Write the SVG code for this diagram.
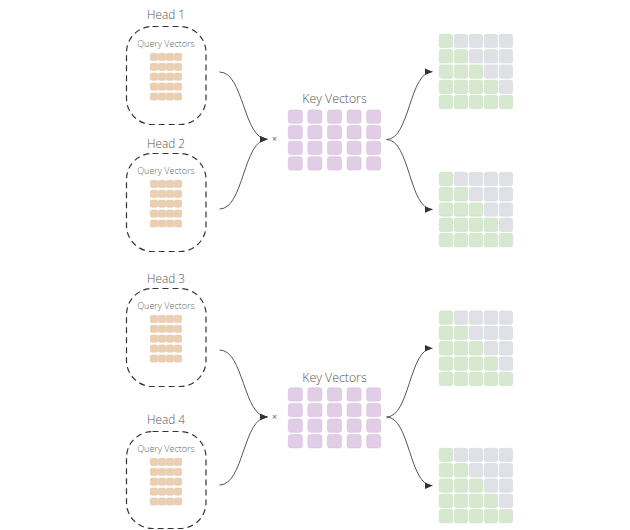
<svg xmlns="http://www.w3.org/2000/svg" width="630" height="530" viewBox="0 0 630 530">
<defs>
<style>
.title{font-family:"Open Sans","Liberation Sans",sans-serif;font-size:11.8px;font-weight:300;fill:#555;text-anchor:middle}
.qlabel{font-family:"Open Sans","Liberation Sans",sans-serif;font-size:9px;font-weight:300;fill:#666;text-anchor:middle}
.klabel{font-family:"Open Sans","Liberation Sans",sans-serif;font-size:12.3px;font-weight:300;fill:#555;text-anchor:middle}
.times{font-family:"Open Sans","Liberation Sans",sans-serif;font-size:9px;fill:#666;text-anchor:middle}
.box{fill:none;stroke:#333;stroke-width:1.2;stroke-dasharray:6 4}
.q{fill:#ebcfb2;stroke:#e2c2a4;stroke-width:0.5}
.k{fill:#e2cde7;stroke:#d6bddd;stroke-width:0.6}
.g{fill:#d6e8d0;stroke:#c6dfbf;stroke-width:0.6}
.n{fill:#dfe1e7;stroke:#d4d7de;stroke-width:0.6}
.link{fill:none;stroke:#555;stroke-width:1;marker-end:url(#arr)}
</style>
<marker id="arr" markerUnits="userSpaceOnUse" markerWidth="8" markerHeight="7" refX="8" refY="3.5" orient="auto">
<path d="M0,0 L8,3.5 L0,7 z" fill="#333"/>
</marker>
<g id="qgrid">
<rect class="q" x="0" y="0" width="7.4" height="7.2" rx="1.5"/><rect class="q" x="8" y="0" width="7.4" height="7.2" rx="1.5"/><rect class="q" x="16" y="0" width="7.4" height="7.2" rx="1.5"/><rect class="q" x="24" y="0" width="7.4" height="7.2" rx="1.5"/>
<rect class="q" x="0" y="9.9" width="7.4" height="7.2" rx="1.5"/><rect class="q" x="8" y="9.9" width="7.4" height="7.2" rx="1.5"/><rect class="q" x="16" y="9.9" width="7.4" height="7.2" rx="1.5"/><rect class="q" x="24" y="9.9" width="7.4" height="7.2" rx="1.5"/>
<rect class="q" x="0" y="19.8" width="7.4" height="7.2" rx="1.5"/><rect class="q" x="8" y="19.8" width="7.4" height="7.2" rx="1.5"/><rect class="q" x="16" y="19.8" width="7.4" height="7.2" rx="1.5"/><rect class="q" x="24" y="19.8" width="7.4" height="7.2" rx="1.5"/>
<rect class="q" x="0" y="29.7" width="7.4" height="7.2" rx="1.5"/><rect class="q" x="8" y="29.7" width="7.4" height="7.2" rx="1.5"/><rect class="q" x="16" y="29.7" width="7.4" height="7.2" rx="1.5"/><rect class="q" x="24" y="29.7" width="7.4" height="7.2" rx="1.5"/>
<rect class="q" x="0" y="39.6" width="7.4" height="7.2" rx="1.5"/><rect class="q" x="8" y="39.6" width="7.4" height="7.2" rx="1.5"/><rect class="q" x="16" y="39.6" width="7.4" height="7.2" rx="1.5"/><rect class="q" x="24" y="39.6" width="7.4" height="7.2" rx="1.5"/>
</g>
<g id="kgrid">
<rect class="k" x="0" y="0" width="14" height="13.3" rx="2.5"/><rect class="k" x="19.6" y="0" width="14" height="13.3" rx="2.5"/><rect class="k" x="39.2" y="0" width="14" height="13.3" rx="2.5"/><rect class="k" x="58.8" y="0" width="14" height="13.3" rx="2.5"/><rect class="k" x="78.4" y="0" width="14" height="13.3" rx="2.5"/>
<rect class="k" x="0" y="15.6" width="14" height="13.3" rx="2.5"/><rect class="k" x="19.6" y="15.6" width="14" height="13.3" rx="2.5"/><rect class="k" x="39.2" y="15.6" width="14" height="13.3" rx="2.5"/><rect class="k" x="58.8" y="15.6" width="14" height="13.3" rx="2.5"/><rect class="k" x="78.4" y="15.6" width="14" height="13.3" rx="2.5"/>
<rect class="k" x="0" y="31.2" width="14" height="13.3" rx="2.5"/><rect class="k" x="19.6" y="31.2" width="14" height="13.3" rx="2.5"/><rect class="k" x="39.2" y="31.2" width="14" height="13.3" rx="2.5"/><rect class="k" x="58.8" y="31.2" width="14" height="13.3" rx="2.5"/><rect class="k" x="78.4" y="31.2" width="14" height="13.3" rx="2.5"/>
<rect class="k" x="0" y="46.8" width="14" height="13.3" rx="2.5"/><rect class="k" x="19.6" y="46.8" width="14" height="13.3" rx="2.5"/><rect class="k" x="39.2" y="46.8" width="14" height="13.3" rx="2.5"/><rect class="k" x="58.8" y="46.8" width="14" height="13.3" rx="2.5"/><rect class="k" x="78.4" y="46.8" width="14" height="13.3" rx="2.5"/>
</g>
<g id="mgrid">
<rect class="g" x="0" y="0" width="13.3" height="13.3" rx="2"/><rect class="n" x="15" y="0" width="13.3" height="13.3" rx="2"/><rect class="n" x="30" y="0" width="13.3" height="13.3" rx="2"/><rect class="n" x="45" y="0" width="13.3" height="13.3" rx="2"/><rect class="n" x="60" y="0" width="13.3" height="13.3" rx="2"/>
<rect class="g" x="0" y="15.3" width="13.3" height="13.3" rx="2"/><rect class="g" x="15" y="15.3" width="13.3" height="13.3" rx="2"/><rect class="n" x="30" y="15.3" width="13.3" height="13.3" rx="2"/><rect class="n" x="45" y="15.3" width="13.3" height="13.3" rx="2"/><rect class="n" x="60" y="15.3" width="13.3" height="13.3" rx="2"/>
<rect class="g" x="0" y="30.6" width="13.3" height="13.3" rx="2"/><rect class="g" x="15" y="30.6" width="13.3" height="13.3" rx="2"/><rect class="g" x="30" y="30.6" width="13.3" height="13.3" rx="2"/><rect class="n" x="45" y="30.6" width="13.3" height="13.3" rx="2"/><rect class="n" x="60" y="30.6" width="13.3" height="13.3" rx="2"/>
<rect class="g" x="0" y="45.9" width="13.3" height="13.3" rx="2"/><rect class="g" x="15" y="45.9" width="13.3" height="13.3" rx="2"/><rect class="g" x="30" y="45.9" width="13.3" height="13.3" rx="2"/><rect class="g" x="45" y="45.9" width="13.3" height="13.3" rx="2"/><rect class="n" x="60" y="45.9" width="13.3" height="13.3" rx="2"/>
<rect class="g" x="0" y="61.2" width="13.3" height="13.3" rx="2"/><rect class="g" x="15" y="61.2" width="13.3" height="13.3" rx="2"/><rect class="g" x="30" y="61.2" width="13.3" height="13.3" rx="2"/><rect class="g" x="45" y="61.2" width="13.3" height="13.3" rx="2"/><rect class="g" x="60" y="61.2" width="13.3" height="13.3" rx="2"/>
</g>
</defs>
<rect width="630" height="530" fill="#fff"/>

<g id="head1">
<text class="title" x="166" y="19.2">Head 1</text>
<rect class="box" x="126.5" y="26.5" width="79.5" height="98" rx="26"/>
<text class="qlabel" x="166" y="46.7">Query Vectors</text>
<use href="#qgrid" x="150.3" y="53.3"/>
</g>
<g id="head2">
<text class="title" x="166" y="147.7">Head 2</text>
<rect class="box" x="126.5" y="153.5" width="79.5" height="98" rx="26"/>
<text class="qlabel" x="166" y="174">Query Vectors</text>
<use href="#qgrid" x="150.3" y="180.3"/>
</g>
<g id="head3">
<text class="title" x="166" y="282.7">Head 3</text>
<rect class="box" x="126.5" y="288.5" width="79.5" height="98" rx="26"/>
<text class="qlabel" x="166" y="309">Query Vectors</text>
<use href="#qgrid" x="150.3" y="315.3"/>
</g>
<g id="head4">
<text class="title" x="166" y="424.4">Head 4</text>
<rect class="box" x="126.5" y="431.5" width="79.5" height="97" rx="26"/>
<text class="qlabel" x="166" y="451.5">Query Vectors</text>
<use href="#qgrid" x="150.3" y="458.3"/>
</g>

<g id="keys1">
<text class="klabel" x="334.5" y="103.3">Key Vectors</text>
<use href="#kgrid" x="288.3" y="110"/>
</g>
<g id="times1"><text class="times" x="274.7" y="141.5">×</text></g>
<g id="keys2">
<text class="klabel" x="334.5" y="381.5">Key Vectors</text>
<use href="#kgrid" x="288.3" y="387.8"/>
</g>
<g id="times2"><text class="times" x="274.7" y="419.5">×</text></g>

<g id="out1"><use href="#mgrid" x="439.3" y="34.3"/></g>
<g id="out2"><use href="#mgrid" x="439.3" y="172.3"/></g>
<g id="out3"><use href="#mgrid" x="439.3" y="311"/></g>
<g id="out4"><use href="#mgrid" x="439.3" y="448.3"/></g>

<g id="connectors">
<path class="link" d="M219.5,72 C244,72 243,139.3 267.5,139.3"/>
<path class="link" d="M219.5,209 C244,209 243,139.3 267.5,139.3"/>
<path class="link" d="M386.5,139.5 C410,139.5 409,71.7 432.5,71.7"/>
<path class="link" d="M386.5,139.5 C410,139.5 409,209.5 432.5,209.5"/>
<path class="link" d="M219.5,350 C244,350 243,417 267.5,417"/>
<path class="link" d="M219.5,485 C244,485 243,417 267.5,417"/>
<path class="link" d="M386.5,417 C410,417 409,348.3 432.5,348.3"/>
<path class="link" d="M386.5,417 C410,417 409,485.7 432.5,485.7"/>
</g>
</svg>
